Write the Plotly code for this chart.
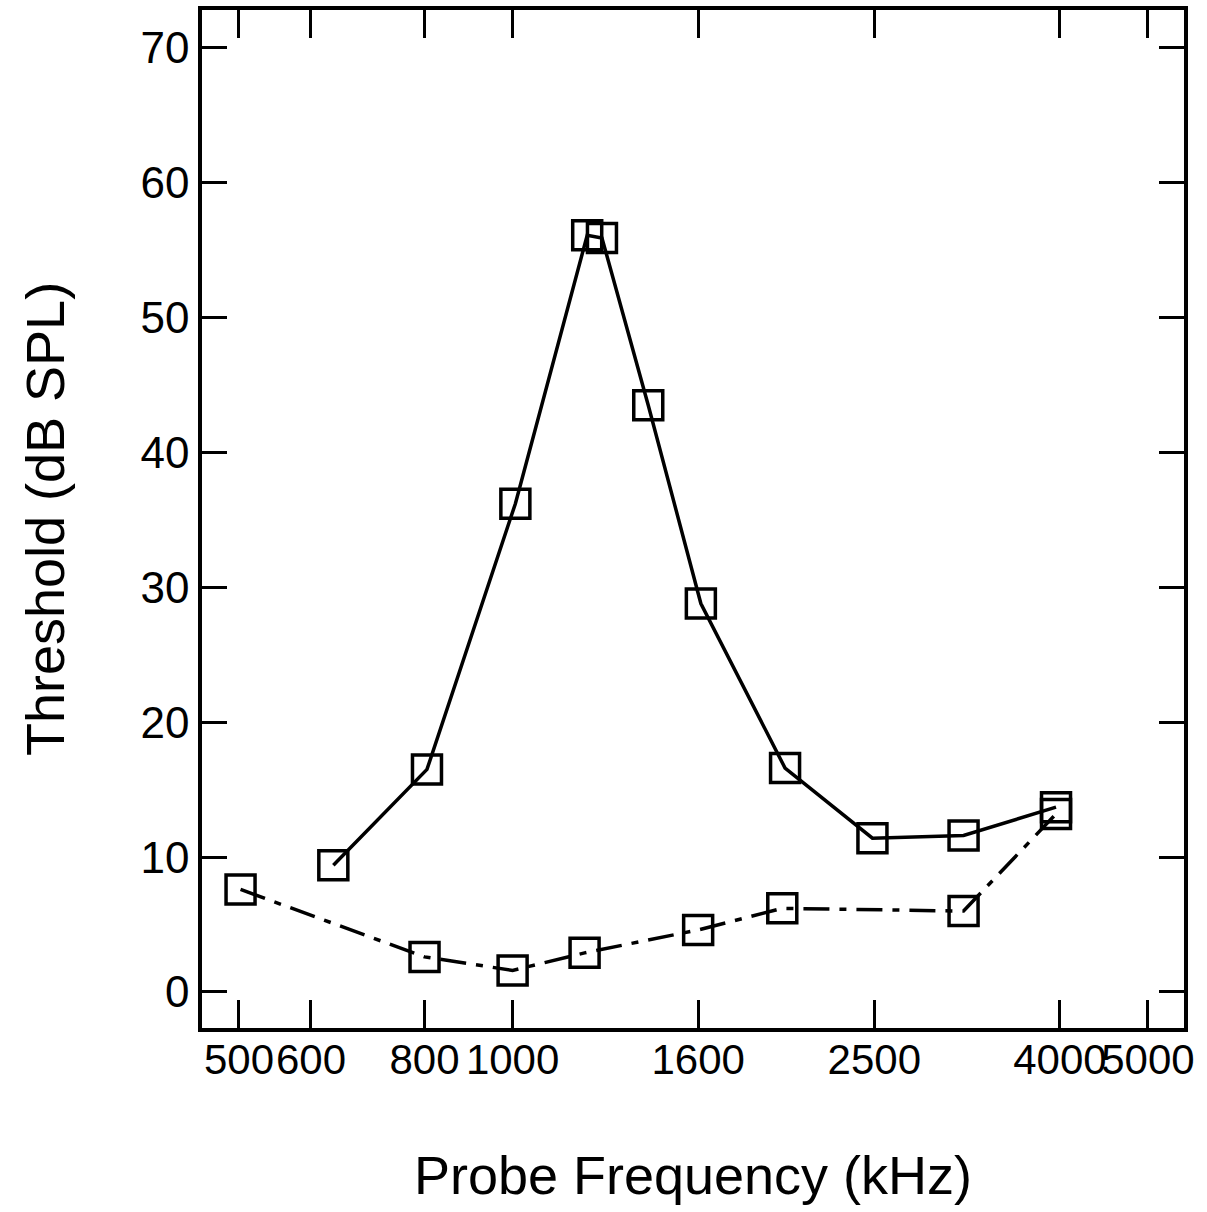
import plotly.graph_objects as go

# solid curve (masked thresholds)
freq_a = [635, 805, 1007, 1208, 1254, 1410, 1611, 1994, 2488, 3134, 3961]
thr_a = [9.4, 16.5, 36.2, 56.1, 55.9, 43.5, 28.8, 16.6, 11.4, 11.6, 13.7]

# dash-dot curve (quiet thresholds)
freq_b = [502, 800, 1000, 1200, 1600, 1980, 3134, 3961]
thr_b = [7.6, 2.6, 1.6, 2.9, 4.6, 6.2, 6.0, 13.2]

x_ticks = [500, 600, 800, 1000, 1600, 2500, 4000, 5000]
y_ticks = [0, 10, 20, 30, 40, 50, 60, 70]

fig = go.Figure()
fig.add_trace(go.Scatter(
    x=freq_a, y=thr_a, mode="lines+markers",
    line=dict(color="black", width=3.5),
    marker=dict(symbol="square-open", size=29, color="black", line=dict(width=3.5, color="black")),
    showlegend=False))
fig.add_trace(go.Scatter(
    x=freq_b, y=thr_b, mode="lines+markers",
    line=dict(color="black", width=3.5, dash="26px,10px,7px,10px"),
    marker=dict(symbol="square-open", size=29, color="black", line=dict(width=3.5, color="black")),
    showlegend=False))

font = "Liberation Sans, Arial, Helvetica, sans-serif"
fig.update_layout(
    width=1207, height=1212,
    margin=dict(l=202, r=23, t=10, b=184),
    paper_bgcolor="white", plot_bgcolor="white",
    font=dict(family=font, color="black"),
)
fig.update_xaxes(
    type="log", range=[2.6583, 3.7386],
    tickvals=x_ticks, ticktext=[str(v) for v in x_ticks],
    tickangle=0, automargin=False, ticklabelstandoff=-8,
    ticks="inside", ticklen=28, tickwidth=3, tickcolor="black",
    showline=True, linewidth=3.5, linecolor="black", mirror="ticks",
    showgrid=False, zeroline=False,
    tickfont=dict(size=42, family=font),
    title=dict(text="Probe Frequency (kHz)", font=dict(size=54, family=font), standoff=75),
)
fig.update_yaxes(
    range=[-2.67, 72.8],
    tickvals=y_ticks, automargin=False,
    ticks="inside", ticklen=25, tickwidth=3, tickcolor="black",
    showline=True, linewidth=3.5, linecolor="black", mirror="ticks",
    showgrid=False, zeroline=False,
    tickfont=dict(size=44, family=font),
    title=dict(text="Threshold (dB SPL)", font=dict(size=54, family=font), standoff=60),
)
fig.write_html("out.html")
